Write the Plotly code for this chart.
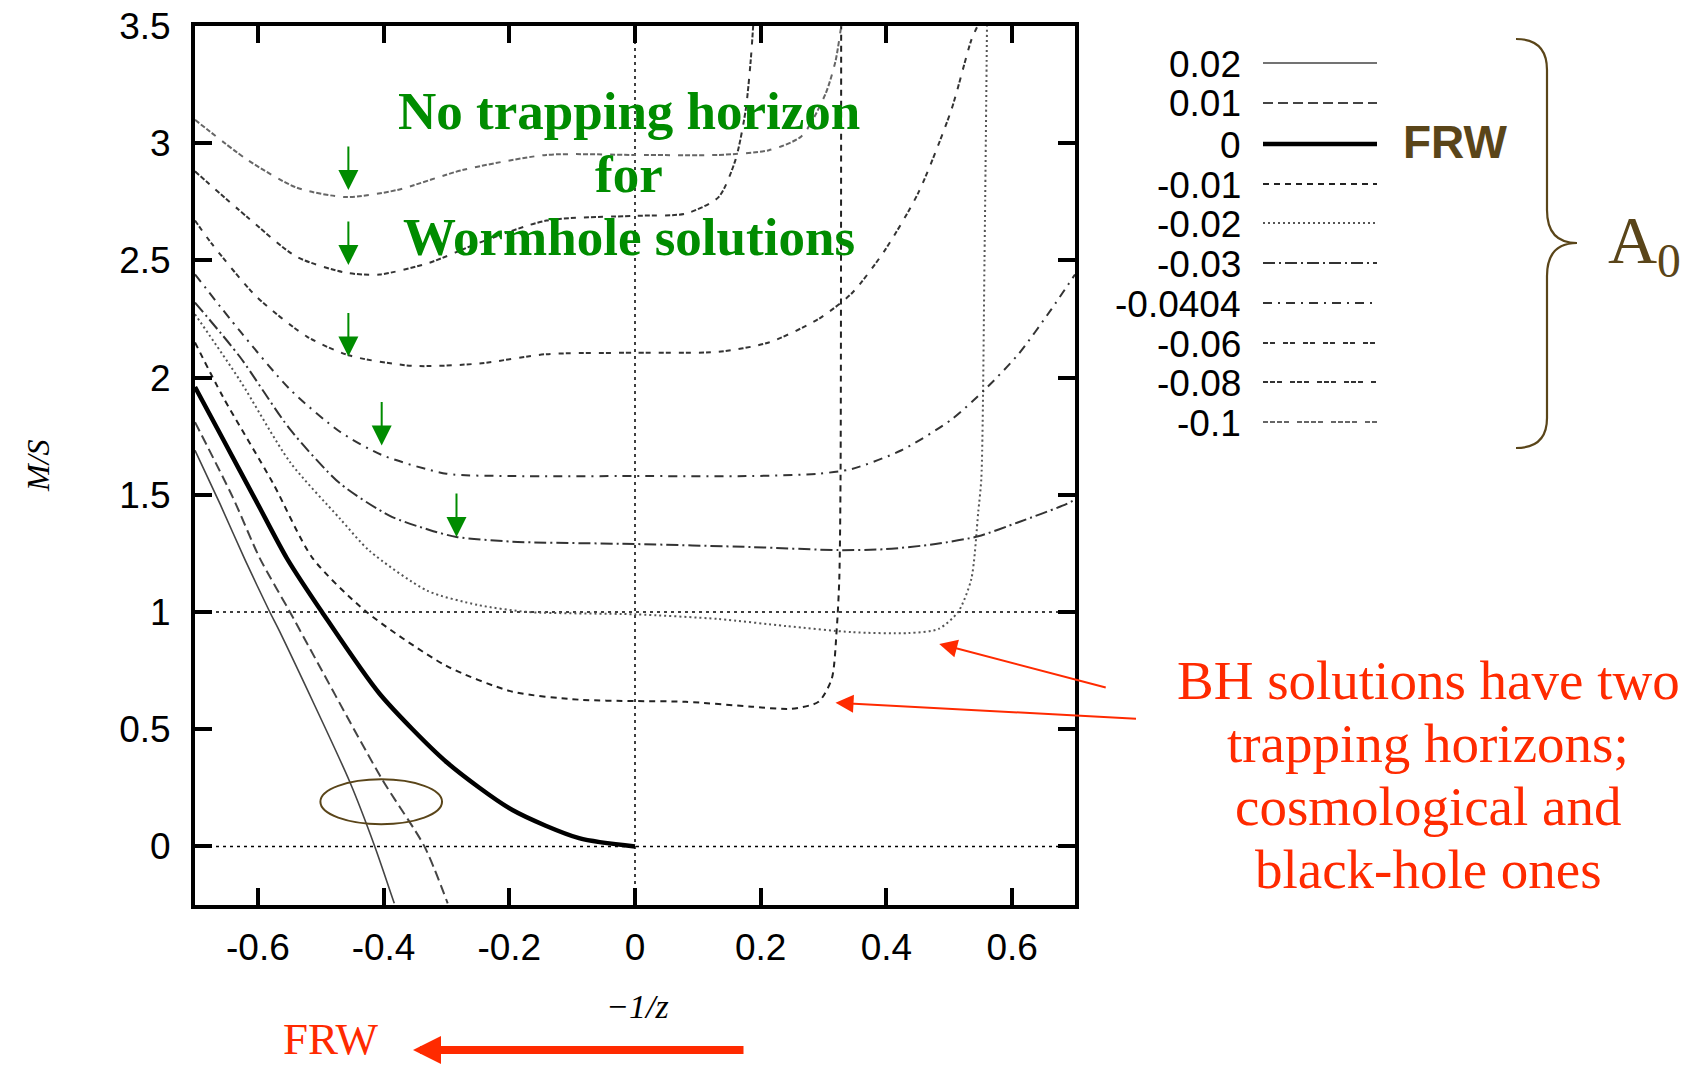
import plotly.graph_objects as go

# ---------------- data ----------------
a0_labels = ["0.02", "0.01", "0", "-0.01", "-0.02", "-0.03", "-0.0404", "-0.06", "-0.08", "-0.1"]

x_p002 = [-0.70, -0.66, -0.62, -0.581, -0.565, -0.454, -0.414, -0.383]
y_p002 = [1.69, 1.46, 1.22, 1.00, 0.915, 0.277, 0.0, -0.243]

x_p001 = [-0.70, -0.64, -0.597, -0.549, -0.403, -0.335, -0.298]
y_p001 = [1.81, 1.49, 1.23, 1.00, 0.289, 0.0, -0.243]

x_0 = [-0.70, -0.656, -0.602, -0.554, -0.498, -0.406, -0.30, -0.195, -0.089, 0.0]
y_0 = [1.96, 1.74, 1.47, 1.23, 1.00, 0.65, 0.36, 0.155, 0.035, 0.0]

x_m001 = [-0.70, -0.656, -0.576, -0.513, -0.427, -0.30, -0.195, -0.089, 0.0, 0.081, 0.186,
          0.249, 0.292, 0.313, 0.321, 0.325, 0.327, 0.328]
y_m001 = [2.15, 1.92, 1.55, 1.23, 1.00, 0.77, 0.66, 0.626, 0.62, 0.617, 0.596,
          0.587, 0.617, 0.715, 0.93, 1.14, 1.57, 3.5]

x_m002 = [-0.70, -0.629, -0.549, -0.47, -0.422, -0.33, -0.25, -0.17, 0.0, 0.133, 0.24,
          0.345, 0.435, 0.483, 0.514, 0.535, 0.546, 0.551, 0.556, 0.56]
y_m002 = [2.27, 1.99, 1.64, 1.40, 1.26, 1.09, 1.03, 1.00, 0.99, 0.97, 0.94,
          0.914, 0.91, 0.928, 1.00, 1.14, 1.425, 1.57, 2.5, 3.5]

x_m003 = [-0.70, -0.629, -0.549, -0.47, -0.39, -0.327, -0.284, -0.195, 0.0, 0.186, 0.324,
          0.398, 0.478, 0.546, 0.61, 0.686, 0.70]
y_m003 = [2.32, 2.09, 1.78, 1.55, 1.41, 1.35, 1.32, 1.30, 1.29, 1.277, 1.264,
          1.268, 1.29, 1.323, 1.383, 1.46, 1.48]

x_m00404 = [-0.70, -0.629, -0.549, -0.47, -0.403, -0.30, -0.195, 0.0, 0.186, 0.292, 0.345,
            0.424, 0.503, 0.557, 0.61, 0.662, 0.70]
y_m00404 = [2.44, 2.20, 1.95, 1.77, 1.67, 1.59, 1.58, 1.58, 1.58, 1.59, 1.61,
            1.69, 1.82, 1.95, 2.10, 2.29, 2.44]

x_m006 = [-0.70, -0.673, -0.602, -0.522, -0.454, -0.354, -0.248, -0.141, 0.0, 0.133, 0.213,
          0.292, 0.345, 0.398, 0.451, 0.503, 0.535, 0.545]
y_m006 = [2.67, 2.57, 2.345, 2.175, 2.094, 2.05, 2.06, 2.10, 2.106, 2.11, 2.15,
          2.25, 2.36, 2.545, 2.79, 3.14, 3.44, 3.5]

x_m008 = [-0.70, -0.617, -0.538, -0.459, -0.406, -0.327, -0.248, -0.141, 0.0, 0.081, 0.133,
          0.16, 0.176, 0.184, 0.188]
y_m008 = [2.88, 2.685, 2.515, 2.447, 2.44, 2.49, 2.575, 2.67, 2.69, 2.70, 2.77,
          2.93, 3.14, 3.35, 3.5]

x_m01 = [-0.70, -0.617, -0.538, -0.459, -0.379, -0.275, -0.141, 0.0, 0.133, 0.213, 0.265,
         0.303, 0.319, 0.327, 0.328]
y_m01 = [3.10, 2.93, 2.81, 2.77, 2.80, 2.885, 2.95, 2.95, 2.95, 2.97, 3.03,
         3.21, 3.35, 3.48, 3.5]

x_ticks = [-0.6, -0.4, -0.2, 0, 0.2, 0.4, 0.6]
x_ticktext = ["-0.6", "-0.4", "-0.2", "0", "0.2", "0.4", "0.6"]
y_ticks = [0, 0.5, 1, 1.5, 2, 2.5, 3, 3.5]
y_ticktext = ["0", "0.5", "1", "1.5", "2", "2.5", "3", "3.5"]

# minima of wormhole curves marked by green arrows
arrow_x = [-0.456, -0.456, -0.456, -0.403, -0.284]
arrow_y = [2.80, 2.48, 2.09, 1.71, 1.32]

# ---------------- styles ----------------
series = [
    (x_p002, y_p002, "#444444", 1.6, "solid"),
    (x_p001, y_p001, "#444444", 2.0, "10px,5px"),
    (x_0, y_0, "#000000", 4.5, "solid"),
    (x_m001, y_m001, "#222222", 2.0, "6px,5px"),
    (x_m002, y_m002, "#555555", 2.0, "2px,3px"),
    (x_m003, y_m003, "#333333", 2.0, "12px,4px,2px,4px"),
    (x_m00404, y_m00404, "#333333", 2.0, "9px,6px,2px,6px"),
    (x_m006, y_m006, "#333333", 2.0, "5px,2px,5px,8px"),
    (x_m008, y_m008, "#333333", 2.0, "5px,2px,5px,2px,5px,8px"),
    (x_m01, y_m01, "#666666", 2.0, "5px,2px,5px,2px,5px,2px,5px,8px"),
]

W, H = 1693, 1066
WL, WR, WT, WB = 195, 1075, 26, 905   # plot area in pixels


def px(xp):
    return (xp - WL) / (WR - WL)


def py(yp):
    return (WB - yp) / (WB - WT)


fig = go.Figure()
for (xs, ys, col, w, dash), name in zip(series, a0_labels):
    fig.add_trace(go.Scatter(x=xs, y=ys, mode="lines", name=name, showlegend=False,
                             line=dict(color=col, width=w, dash=dash, shape="spline", smoothing=0.7)))

shapes = []
for yv in [0, 1]:
    shapes.append(dict(type="line", xref="x", yref="y", x0=-0.7, x1=0.7, y0=yv, y1=yv,
                       line=dict(color="black", width=1.5, dash="3px,4px"), layer="below"))
shapes.append(dict(type="line", xref="x", yref="y", x0=0, x1=0, y0=-0.25, y1=3.5,
                   line=dict(color="black", width=1.5, dash="3px,4px"), layer="below"))
shapes.append(dict(type="circle", xref="x", yref="y", x0=-0.5005, x1=-0.307, y0=0.095, y1=0.286,
                   line=dict(color="#5a4519", width=2)))

annotations = []


def note(x, y, text, size, color, family="Liberation Serif", xanchor="center", yanchor="middle", **kw):
    annotations.append(dict(xref="paper", yref="paper", x=x, y=y, text=text, showarrow=False,
                            xanchor=xanchor, yanchor=yanchor,
                            font=dict(family=family, size=size, color=color), **kw))


# custom legend
leg_y = [63, 103, 144, 184, 223, 263, 303, 343, 382, 422]
for (xs, ys, col, w, dash), name, yc in zip(series, a0_labels, leg_y):
    shapes.append(dict(type="line", xref="paper", yref="paper", x0=px(1263), x1=px(1377),
                       y0=py(yc), y1=py(yc), line=dict(color=col, width=w, dash=dash)))
    note(px(1243), py(yc + 1), name, 37, "black", family="Liberation Sans", xanchor="right")

# curly brace
bx0, bx1, bx2 = px(1516), px(1547), px(1577)
path = (f"M {bx0},{py(39)} Q {bx1},{py(39)} {bx1},{py(70)} L {bx1},{py(210)} "
        f"Q {bx1},{py(243)} {bx2},{py(243)} Q {bx1},{py(243)} {bx1},{py(276)} "
        f"L {bx1},{py(418)} Q {bx1},{py(448)} {bx0},{py(448)}")
shapes.append(dict(type="path", xref="paper", yref="paper", path=path,
                   line=dict(color="#5a4519", width=2.2)))

brown = "#5a4519"
note(px(1455), py(142), "<b>FRW</b>", 46, brown, family="Liberation Sans")
note(px(1606), py(244), "A<sub>0</sub>", 68, brown, xanchor="left")

# green text
green = "#008c00"
for txt, yc in [("No trapping horizon", 111), ("for", 174), ("Wormhole solutions", 237)]:
    note(px(629), py(yc), f"<b>{txt}</b>", 53, green)
for ax_, ay_ in zip(arrow_x, arrow_y):
    annotations.append(dict(xref="x", yref="y", x=ax_, y=ay_, text="", showarrow=True,
                            ax=0, ay=-45, arrowhead=2, arrowsize=2, arrowwidth=2,
                            arrowcolor=green, standoff=0))

# red text + arrows
red = "#ff2a00"
for txt, yc in [("BH solutions have two", 680), ("trapping horizons;", 743),
                ("cosmological and", 806), ("black-hole ones", 869)]:
    note(px(1428), py(yc), txt, 55, red)
annotations.append(dict(xref="x", yref="y", x=0.484, y=0.864, text="", showarrow=True,
                        ax=168, ay=44, arrowhead=2, arrowsize=1.8, arrowwidth=2,
                        arrowcolor=red, standoff=0))
annotations.append(dict(xref="x", yref="y", x=0.319, y=0.613, text="", showarrow=True,
                        ax=302, ay=16, arrowhead=2, arrowsize=1.8, arrowwidth=2,
                        arrowcolor=red, standoff=0))
note(px(331), py(1066), "FRW", 45, red, yanchor="bottom")
annotations.append(dict(xref="paper", yref="paper", x=px(413), y=py(1050), text="",
                        showarrow=True, ax=332, ay=0, arrowhead=2, arrowsize=0.7,
                        arrowwidth=8, arrowcolor=red, standoff=0))

# axis titles
note(px(637), py(1006), "<i>−1/z</i>", 34, "black")
note(px(38), py(466), "<i>M/S</i>", 32, "black", textangle=-90)

axis_common = dict(showgrid=False, zeroline=False, showline=True, linewidth=4, linecolor="black",
                   mirror="ticks", ticks="inside", ticklen=17, tickwidth=4, tickcolor="black",
                   automargin=False, ticklabeloverflow="allow",
                   tickfont=dict(family="Liberation Sans", size=37, color="black"))

fig.update_layout(
    width=W, height=H,
    margin=dict(l=WL, r=W - WR, t=WT, b=H - WB, pad=0),
    paper_bgcolor="white", plot_bgcolor="white",
    xaxis=dict(range=[-0.7, 0.7], tickvals=x_ticks, ticktext=x_ticktext,
               ticklabelstandoff=7, **axis_common),
    yaxis=dict(range=[-0.25, 3.5], tickvals=y_ticks, ticktext=y_ticktext,
               ticklabelstandoff=13, **axis_common),
    shapes=shapes, annotations=annotations, showlegend=False,
)

# the page body has a default 8px margin; remove it so the figure fills the window exactly
fig.write_html("out.html", config={"displayModeBar": False},
               post_script="document.body.style.margin='0';")
